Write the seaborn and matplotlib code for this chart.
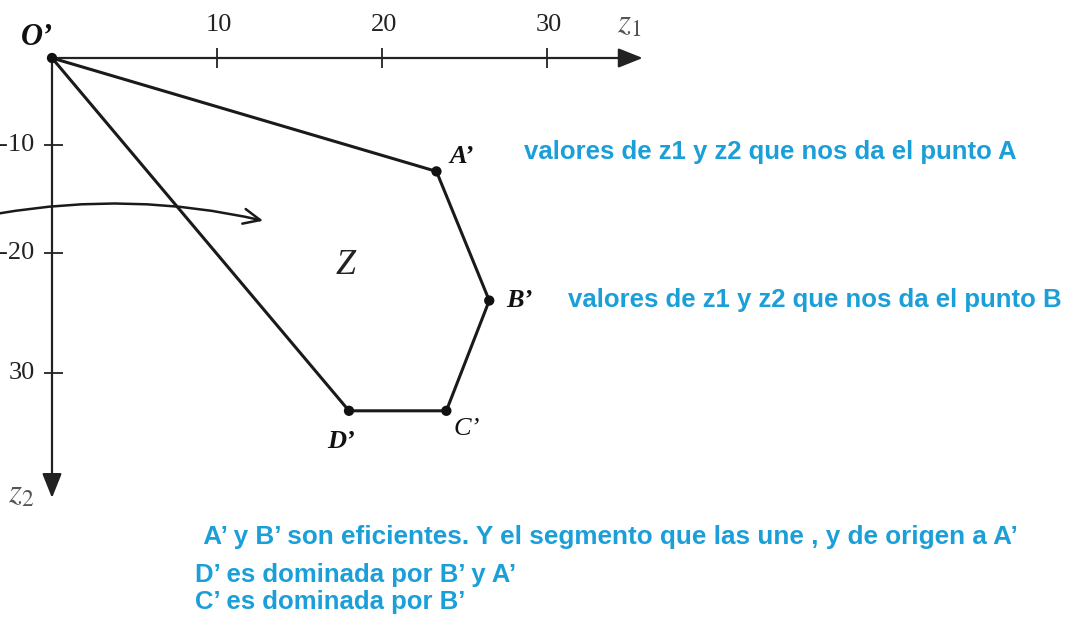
import numpy as np
import pandas as pd
import matplotlib
matplotlib.use("Agg")
import matplotlib.pyplot as plt
import seaborn as sns

# vertices of the image set Z (z1, z2)
point_names = ["O’", "A’", "B’", "C’", "D’"]
z1_values = [0.0, 23.3, 26.5, 23.9, 18.0]
z2_values = [0.0, -10.8, -23.1, -33.6, -33.6]

# path around the region: O' -> A' -> B' -> C' -> D' -> O'
path_order = ["O’", "A’", "B’", "C’", "D’", "O’"]

z1_ticks = [10, 20, 30]
z1_tick_labels = ["10", "20", "30"]
z2_ticks = [-8.3, -18.6, -30.0]
z2_tick_labels = ["-10", "-20", "30"]

blue = "#1b9fd8"
note_a = "valores de z1 y z2 que nos da el punto A"
note_b = "valores de z1 y z2 que nos da el punto B"
notes_bottom = [
    " A’ y B’ son eficientes. Y el segmento que las une , y de origen a A’",
    "D’ es dominada por B’ y A’",
    "C’ es dominada por B’",
]


def main():
    sns.set_theme(style="white")
    plt.rcParams["font.family"] = ["Liberation Serif", "DejaVu Serif"]
    plt.rcParams["mathtext.fontset"] = "stix"

    pts = pd.DataFrame({"name": point_names, "z1": z1_values, "z2": z2_values})
    path = pts.set_index("name").loc[path_order].reset_index()

    fig = plt.figure(figsize=(10.82, 6.32), dpi=100)
    ax = fig.add_axes([0, 0, 1, 1])
    ax.set_xlim(-52 / 16.5, (1082 - 52) / 16.5)
    ax.set_ylim(-(632 - 58) / 10.5, 58 / 10.5)
    ax.axis("off")

    # axes with arrow heads
    head = "-|>,head_length=1.25,head_width=0.5"
    ax.annotate("", xy=(35.8, 0), xytext=(0, 0),
                arrowprops=dict(arrowstyle=head, lw=1.6, color="#222222",
                                shrinkA=0, shrinkB=0))
    ax.annotate("", xy=(0, -41.9), xytext=(0, 0),
                arrowprops=dict(arrowstyle=head, lw=1.6, color="#222222",
                                shrinkA=0, shrinkB=0))
    ax.vlines(z1_ticks, -0.95, 0.95, color="#222222", lw=1.3)
    ax.hlines(z2_ticks, -0.5, 0.65, color="#222222", lw=1.3)

    for x, lab in zip(z1_ticks, z1_tick_labels):
        ax.text(x + 0.1, 3.1, lab, ha="center", va="center", fontsize=19, color="#222222")
    for y, lab in zip(z2_ticks, z2_tick_labels):
        ax.text(-1.05, y, lab, ha="right", va="center", fontsize=19, color="#222222")

    ax.text(35.0, 3.2, "$z_1$", ha="center", va="center", fontsize=24, color="#555555")
    ax.text(-1.9, -41.5, "$z_2$", ha="center", va="center", fontsize=24, color="#555555")

    # region boundary and vertices
    sns.lineplot(data=path, x="z1", y="z2", sort=False, estimator=None,
                 color="#1a1a1a", lw=2.2, ax=ax)
    sns.scatterplot(data=pts, x="z1", y="z2", color="#111111", s=55,
                    edgecolor="none", zorder=5, ax=ax)
    ax.axis("off")

    label_offsets = {
        "O’": (-11, 15, dict(fontweight="bold", style="italic", fontsize=22)),
        "A’": (18, 11, dict(fontweight="bold", style="italic", fontsize=19)),
        "B’": (22, 0, dict(fontweight="bold", style="italic", fontsize=19)),
        "C’": (15, -13, dict(style="italic", fontsize=19)),
        "D’": (-6, -22, dict(fontweight="bold", style="italic", fontsize=19)),
    }
    for name, x, y in zip(point_names, z1_values, z2_values):
        dx, dy, kw = label_offsets[name]
        ax.annotate(name, (x, y), xytext=(dx, dy), textcoords="offset points",
                    ha="center", va="center", color="#111111", **kw)

    ax.text(17.8, -19.8, "Z", ha="center", va="center", fontsize=26,
            style="italic", color="#222222")

    # curved arrow entering the region
    ax.annotate("", xy=(12.8, -15.5), xytext=(-3.2, -14.8),
                arrowprops=dict(arrowstyle="->,head_length=1.0,head_width=0.45",
                                connectionstyle="arc3,rad=-0.1",
                                lw=1.8, color="#1a1a1a", shrinkA=0, shrinkB=0))

    sans = ["Liberation Sans", "DejaVu Sans"]
    fig.text(524 / 1082, 1 - 152 / 632, note_a, color=blue, fontsize=18.5,
             fontweight="bold", family=sans, ha="left", va="center")
    fig.text(568 / 1082, 1 - 300 / 632, note_b, color=blue, fontsize=18.5,
             fontweight="bold", family=sans, ha="left", va="center")
    fig.text(197 / 1082, 1 - 537 / 632, notes_bottom[0], color=blue, fontsize=18.8,
             fontweight="bold", family=sans, ha="left", va="center")
    fig.text(195 / 1082, 1 - 575 / 632, notes_bottom[1], color=blue, fontsize=18.5,
             fontweight="bold", family=sans, ha="left", va="center")
    fig.text(195 / 1082, 1 - 602 / 632, notes_bottom[2], color=blue, fontsize=18.5,
             fontweight="bold", family=sans, ha="left", va="center")

    fig.savefig("out.png", dpi=100, facecolor="white")


if __name__ == "__main__":
    main()
